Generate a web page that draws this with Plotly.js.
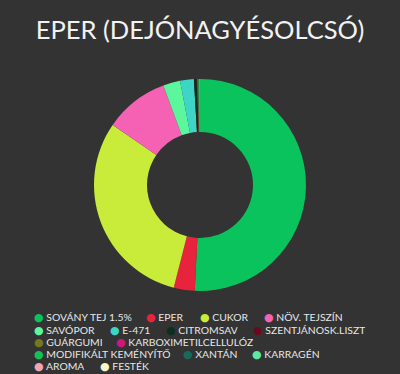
<!DOCTYPE html>
<html><head><meta charset="utf-8">
<script src="https://cdn.plot.ly/plotly-3.0.1.min.js"></script>
<style>body{margin:0;background:#333333;}</style>
</head><body>
<div id="chart" style="width:400px;height:374px;"></div>
<script>
const labels = ["SOVÁNY TEJ 1.5%","EPER","CUKOR","NÖV. TEJSZÍN","SAVÓPOR","E-471","CITROMSAV","SZENTJÁNOSK.LISZT","GUÁRGUMI","KARBOXIMETILCELLULÓZ","MODIFIKÁLT KEMÉNYÍTŐ","XANTÁN","KARRAGÉN","AROMA","FESTÉK"];
const values = [50.8, 3.2, 30.6, 9.8, 2.6, 2.1, 0.4, 0.1, 0.1, 0.05, 0.1, 0.05, 0.05, 0.05, 0.02];
const colors = ["#0bc35c","#e8233c","#c9ec3a","#f562b4","#5cf79c","#3fd5c6","#0b2e1e","#6a0a1e","#73781a","#cf1779","#12c254","#19695a","#5de9a0","#f3a5b4","#faf7c8"];

// legend layout (pixel position of each entry's dot centre and its row centre)
const legendDotX = [38, 150, 204, 268, 38, 114, 170, 257, 38, 120, 38, 187, 256, 38, 104];
const legendRowY = [317, 317, 317, 317, 330, 330, 330, 330, 342, 342, 354, 354, 354, 366, 366];

const W = 400, H = 374;
const data = [{
  type: "pie",
  labels: labels,
  values: values,
  hole: 0.5,
  sort: false,
  direction: "clockwise",
  rotation: 0,
  textinfo: "none",
  hoverinfo: "label+percent",
  showlegend: false,
  marker: {colors: colors, line: {width: 0}},
  domain: {x: [0.235, 0.765], y: [0.222, 0.789]}
}];
const annotations = labels.map(function (lab, i) {
  return {
    xref: "paper", yref: "paper", showarrow: false,
    x: (legendDotX[i] - 5) / W, xanchor: "left",
    y: 1 - legendRowY[i] / H, yanchor: "middle",
    height: 11, borderpad: 0, valign: "middle",
    text: '<span style="color:' + colors[i] + ';font-family:DejaVu Sans;font-size:11px">●</span> ' + lab,
    font: {family: "Lato, sans-serif", size: 10.4, color: "#e6e6e6"}
  };
});
const layout = {
  width: W, height: H,
  paper_bgcolor: "#333333",
  plot_bgcolor: "#333333",
  margin: {l: 0, r: 0, t: 0, b: 0, autoexpand: false},
  title: {text: "EPER (DEJÓNAGYÉSOLCSÓ)", font: {family: "Lato, sans-serif", size: 25.5, color: "#f2f2f2"},
          x: 0.5, xanchor: "center", y: 0.92, yanchor: "middle"},
  showlegend: false,
  annotations: annotations
};
Plotly.newPlot("chart", data, layout, {displayModeBar: false, staticPlot: true});
</script>
</body></html>
